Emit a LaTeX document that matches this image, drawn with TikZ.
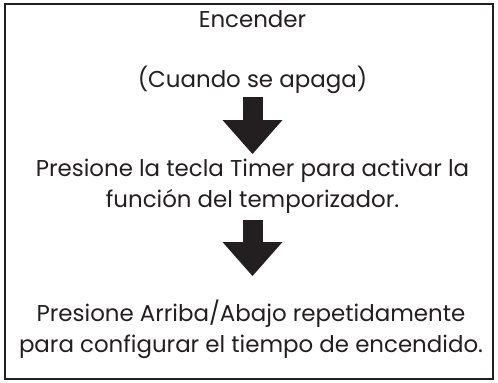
\documentclass[tikz,border=0pt]{standalone}
\usepackage{fontspec}
\setmainfont{Poppins}
\usepackage{xcolor}
\usetikzlibrary{arrows.meta}
\definecolor{ink}{HTML}{231F20}

\begin{document}
\begin{tikzpicture}[x=1bp,y=-1bp,
	txt/.style={anchor=base, inner sep=0pt, text=ink, align=center, font=\fontsize{23}{31}\selectfont},
	bigarrow/.style={ink, line width=20bp, -{Triangle[width=60bp,length=34bp,line width=0pt]}}]
			\useasboundingbox (0,0) rectangle (498,382);
			\draw[ink, line width=2bp] (4.5,3.5) rectangle (492.5,378.5);
			\node[txt] (on) at (252.5,27) {Encender};
			\node[txt] (cuando) at (252.5,87) {(Cuando se apaga)};
			\node[txt] (timer) at (252.5,207) {Presione la tecla Timer para activar la\\función del temporizador.};
			\node[txt] (arriba) at (251,352) {Presione Arriba/Abajo repetidamente\\para configurar el tiempo de encendido.};
			\coordinate (a1) at (252.5,97);
			\coordinate (b1) at (252.5,154);
			\coordinate (a2) at (252.5,220);
			\coordinate (b2) at (252.5,276);
			\draw[bigarrow] (a1) -- (b1);
			\draw[bigarrow] (a2) -- (b2);
		\end{tikzpicture}
\end{document}
